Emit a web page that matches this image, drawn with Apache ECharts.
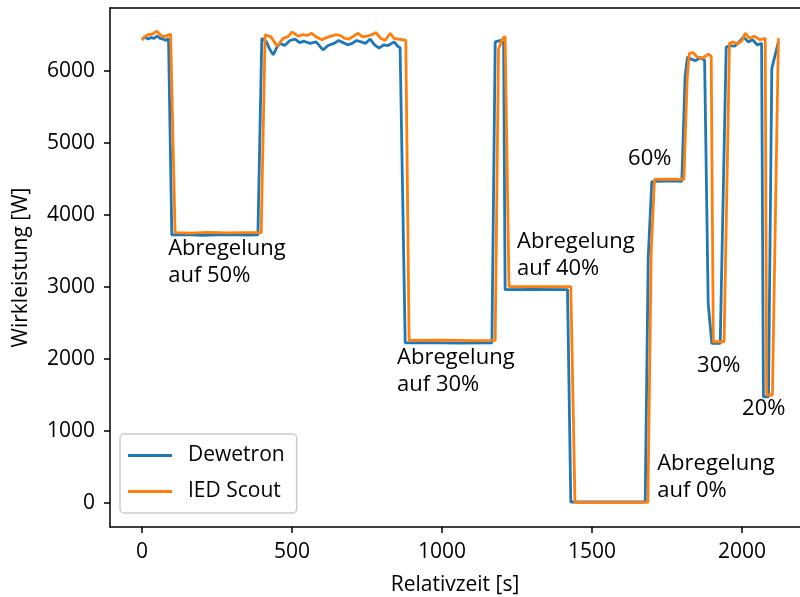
<!DOCTYPE html>
<html>
<head>
<meta charset="utf-8">
<script src="https://cdn.jsdelivr.net/npm/echarts@6/dist/echarts.min.js"></script>
<style>html,body{margin:0;padding:0;background:#fff;}#c{width:800px;height:597px;}</style>
</head>
<body>
<div id="c"></div>
<script>
const dewetron = [[0,6430],[10,6470],[20,6440],[30,6460],[40,6450],[50,6480],[60,6450],[70,6440],[80,6420],[88,6450],[91,6440],
[99,3720],[150,3725],[200,3715],[250,3720],[300,3725],[350,3718],[386,3720],
[399,6450],[415,6400],[425,6300],[437,6220],[450,6330],[460,6380],[475,6350],[493,6420],[510,6440],[525,6390],[540,6410],[560,6380],[580,6400],[603,6290],[620,6350],[640,6380],[655,6420],[670,6390],[685,6360],[700,6380],[715,6420],[730,6400],[745,6380],[760,6440],[775,6360],[790,6315],[805,6360],[820,6350],[840,6400],[852,6340],[860,6320],[866,6310],
[877,2220],[950,2225],[1050,2218],[1166,2222],
[1177,6400],[1195,6420],[1205,6390],[1210,2960],
[1300,2962],[1418,2960],
[1429,10],[1550,10],[1677,10],
[1687,3400],[1699,4460],[1760,4470],[1799,4465],
[1810,5920],[1818,6190],[1830,6160],[1845,6140],[1860,6180],[1875,6150],[1880,6140],
[1887,2770],[1899,2213],[1927,2213],
[1947,6330],[1960,6350],[1975,6340],[1990,6400],[2005,6470],[2020,6400],[2035,6430],[2050,6360],[2065,6380],
[2071,1472],[2088,1472],[2099,6030],[2121,6400]];

const iedScout = [[0,6430],[8,6470],[20,6500],[35,6510],[49,6550],[60,6500],[70,6470],[85,6490],[95,6510],[101,6500],
[110,3750],[160,3745],[220,3755],[280,3748],[340,3752],[397,3750],
[410,6500],[430,6470],[450,6340],[470,6450],[485,6470],[500,6540],[520,6480],[535,6500],[550,6490],[565,6520],[580,6470],[600,6430],[615,6460],[630,6480],[645,6500],[660,6490],[675,6450],[690,6440],[705,6480],[720,6520],[735,6470],[750,6480],[765,6500],[780,6530],[795,6450],[810,6420],[827,6520],[840,6450],[855,6440],[870,6430],[879,6420],
[890,2255],[1000,2258],[1100,2252],[1177,2255],
[1188,6300],[1200,6430],[1210,6480],[1213,6470],[1223,3000],
[1320,3000],[1429,3000],
[1443,5],[1560,5],[1686,5],
[1697,3500],[1708,4490],[1760,4495],[1806,4490],
[1817,5900],[1824,6240],[1837,6250],[1850,6190],[1870,6180],[1888,6230],[1897,6200],
[1904,2236],[1940,2236],
[1958,6380],[1970,6400],[1985,6370],[2000,6420],[2010,6520],[2025,6450],[2040,6480],[2060,6430],[2077,6450],
[2082,1496],[2101,1496],[2121,6450]];

const xTicks = [0, 500, 1000, 1500, 2000];
const yTicks = [0, 1000, 2000, 3000, 4000, 5000, 6000];

const annotations = [
  {text: 'Abregelung\nauf 50%', t: 87, w: 3720},
  {text: 'Abregelung\nauf 30%', t: 850, w: 2205},
  {text: 'Abregelung\nauf 40%', t: 1250, w: 3816},
  {text: '60%', t: 1620, w: 4969},
  {text: '30%', t: 1850, w: 2094},
  {text: '20%', t: 2000, w: 1496},
  {text: 'Abregelung\nauf 0%', t: 1717, w: 733}
];

const FONT = 'Open Sans';
const FS = 21;
const plain = v => String(v);
const chart = echarts.init(document.getElementById('c'), null, {renderer: 'canvas'});
chart.setOption({
  animation: false,
  backgroundColor: '#fff',
  grid: {left: 110, right: 0, top: 8, bottom: 70, containLabel: false, outerBoundsMode: 'none'},
  xAxis: [{
    type: 'value', min: -107, max: 2193,
    name: 'Relativzeit [s]', nameLocation: 'middle', nameGap: 48,
    nameTextStyle: {fontFamily: FONT, fontSize: FS, color: '#000'},
    axisLine: {show: true, onZero: false, lineStyle: {color: '#000', width: 1.5}},
    axisTick: {show: true, length: 6, customValues: xTicks, lineStyle: {color: '#000', width: 1.5}},
    axisLabel: {customValues: xTicks, formatter: plain, margin: 15, fontFamily: FONT, fontSize: FS, color: '#000'},
    splitLine: {show: false}
  }, {
    type: 'value', min: -107, max: 2193, position: 'top',
    axisLine: {show: true, onZero: false, lineStyle: {color: '#000', width: 1.5}},
    axisTick: {show: false}, axisLabel: {show: false}, splitLine: {show: false}
  }],
  yAxis: {
    type: 'value', min: -337, max: 6871,
    name: 'Wirkleistung [W]', nameLocation: 'middle', nameGap: 78, nameRotate: 90,
    nameTextStyle: {fontFamily: FONT, fontSize: FS, color: '#000'},
    axisLine: {show: true, onZero: false, lineStyle: {color: '#000', width: 1.5}},
    axisTick: {show: true, length: 6, customValues: yTicks, lineStyle: {color: '#000', width: 1.5}},
    axisLabel: {customValues: yTicks, formatter: plain, margin: 15, fontFamily: FONT, fontSize: FS, color: '#000'},
    splitLine: {show: false}
  },
  legend: {
    orient: 'vertical', left: 120, top: 434,
    padding: [11, 12, 11, 8],
    backgroundColor: '#fff', borderColor: '#cccccc', borderWidth: 1.5, borderRadius: 4,
    itemWidth: 44, itemHeight: 3, itemGap: 15,
    icon: 'rect',
    textStyle: {fontFamily: FONT, fontSize: FS, color: '#000', padding: [0, 0, 0, 11]},
    data: ['Dewetron', 'IED Scout']
  },
  series: [
    {name: 'Dewetron', type: 'line', data: dewetron, showSymbol: false, symbol: 'none', color: '#1f77b4', lineStyle: {width: 2.8, color: '#1f77b4'}, z: 2},
    {name: 'IED Scout', type: 'line', data: iedScout, showSymbol: false, symbol: 'none', color: '#ff7f0e', lineStyle: {width: 2.8, color: '#ff7f0e'}, z: 3}
  ]
});

const graphics = annotations.map(a => {
  const p = chart.convertToPixel({xAxisIndex: 0, yAxisIndex: 0}, [a.t, a.w]);
  return {type: 'text', x: p[0], y: p[1], z: 10, style: {text: a.text, fontFamily: FONT, fontSize: 22, fill: '#000', align: 'left', verticalAlign: 'top', lineHeight: 27}};
});
chart.setOption({graphic: graphics});
</script>
</body>
</html>
